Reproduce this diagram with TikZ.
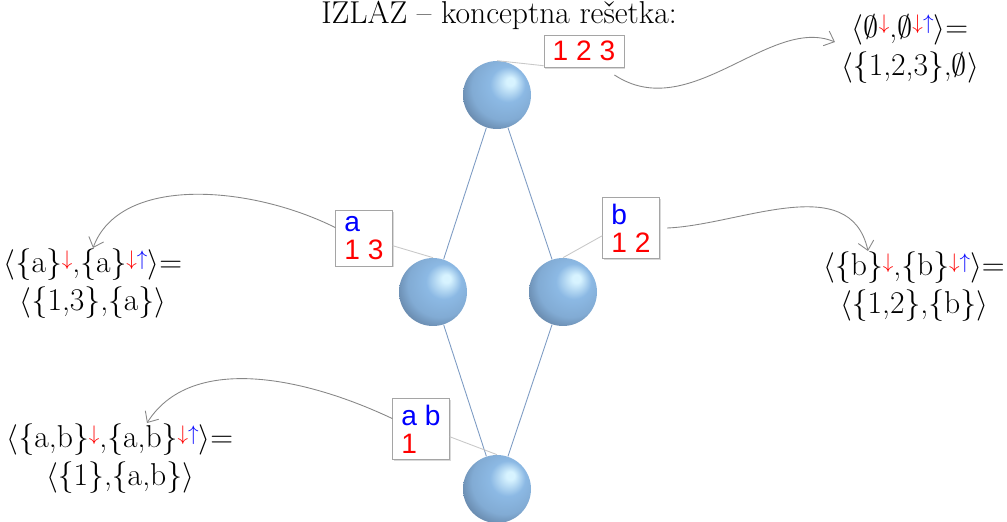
\documentclass[tikz,border=0pt]{standalone}
\usepackage{fontspec}
\setsansfont{Liberation Sans}
\usepackage{amsmath}
\usetikzlibrary{arrows.meta,shadows}

\definecolor{ballhi}{RGB}{215,243,255}
\definecolor{ballmid}{RGB}{140,185,228}
\definecolor{balldark}{RGB}{70,92,120}
\definecolor{edgeblue}{RGB}{125,155,195}
\definecolor{leadgray}{RGB}{200,200,200}
\definecolor{boxgray}{RGB}{165,165,165}
\definecolor{notegray}{RGB}{135,135,135}

\pgfdeclareradialshading{sphere}{\pgfqpoint{10.5bp}{10.5bp}}{%
  color(0bp)=(ballhi); color(3bp)=(ballhi); color(13bp)=(ballmid);
  color(24bp)=(ballmid!85!balldark); color(33bp)=(ballmid!40!balldark); color(40bp)=(balldark); color(50bp)=(balldark)}

\newcommand{\downsup}{\raisebox{0.55ex}{\fontsize{13}{13}\selectfont\textcolor{red}{$\downarrow$}}}
\newcommand{\updownsup}{\raisebox{0.55ex}{\fontsize{13}{13}\selectfont\textcolor{red}{$\downarrow$}\textcolor{blue}{$\uparrow$}}}

\begin{document}
\begin{tikzpicture}[x=0.02cm, y=-0.02cm,
    ball/.style={circle, inner sep=0, minimum size=1.36cm, shading=sphere},
    edge/.style={draw=edgeblue, line width=0.5pt},
    lbl/.style={draw=boxgray, fill=white, inner xsep=5pt, inner ysep=3.5pt, align=left,
      font=\sffamily\fontsize{16}{16}\selectfont,
      drop shadow={shadow xshift=0.8pt, shadow yshift=-0.8pt, opacity=0.3}},
    lead/.style={draw=leadgray, line width=0.5pt},
    note/.style={draw=notegray, line width=0.5pt, -{Straight Barb[length=5pt, width=9pt]}},
    formula/.style={align=center, font=\fontsize{18}{21.6}\selectfont}]
    \useasboundingbox (0, 0) rectangle (1007, 521);
    \node [anchor=base, font=\fontsize{18}{21.6}\selectfont] (title) at (499, 23) {IZLAZ -- konceptna rešetka:};

    \node [ball] (top) at (497, 95) {};
    \node [ball] (left) at (433, 292) {};
    \node [ball] (right) at (563, 292) {};
    \node [ball] (bottom) at (497, 489) {};
    \draw [edge] (top) -- (left);
    \draw [edge] (top) -- (right);
    \draw [edge] (left) -- (bottom);
    \draw [edge] (right) -- (bottom);

    \node [lbl] (b123) at (584, 51) {\textcolor{red}{1 2 3}};
    \node [lbl] (ba) at (364, 238) {\textcolor{blue}{a}\\\textcolor{red}{1 3}};
    \node [lbl] (bb) at (631, 228) {\textcolor{blue}{b}\\\textcolor{red}{1 2}};
    \node [lbl] (bab) at (421, 429) {\textcolor{blue}{a b}\\\textcolor{red}{1}};
    \draw [lead] (b123.-160) -- (top.north);
    \draw [lead] (ba.-15) -- (left.north);
    \draw [lead] (bb.-165) -- (right.north);
    \draw [lead] (bab.-15) -- (bottom.north);

    \node [formula] (fTop) at (910, 49) {$\langle\emptyset$\downsup,$\emptyset$\updownsup$\rangle$=\\$\langle$\{1,2,3\},$\emptyset\rangle$};
    \node [formula] (fA) at (93, 284) {$\langle$\{a\}\downsup,\{a\}\updownsup$\rangle$=\\$\langle$\{1,3\},\{a\}$\rangle$};
    \node [formula] (fB) at (914, 287) {$\langle$\{b\}\downsup,\{b\}\updownsup$\rangle$=\\$\langle$\{1,2\},\{b\}$\rangle$};
    \node [formula] (fAB) at (120, 459) {$\langle$\{a,b\}\downsup,\{a,b\}\updownsup$\rangle$=\\$\langle$\{1\},\{a,b\}$\rangle$};

    \draw [note] ([xshift=-0.2cm, yshift=-0.15cm]b123.south east) .. controls (690, 125) and (770, 15) .. ([yshift=0.14cm]fTop.west);
    \draw [note] (ba.160) .. controls (250, 185) and (120, 175) .. ([yshift=-0.1cm]fA.north);
    \draw [note] ([xshift=0.15cm]bb.east) .. controls (740, 225) and (850, 170) .. ([xshift=-0.92cm, yshift=-0.1cm]fB.north);
    \draw [note] (bab.160) .. controls (300, 375) and (190, 355) .. ([xshift=0.54cm, yshift=-0.1cm]fAB.north);
\end{tikzpicture}
\end{document}
